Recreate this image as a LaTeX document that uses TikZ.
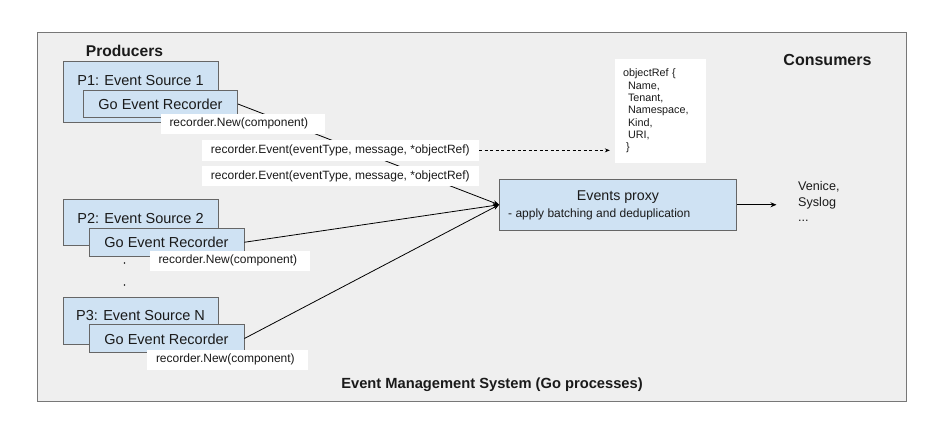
\documentclass[tikz,border=0pt]{standalone}
\usepackage{fontspec}
\setmainfont{Liberation Sans}
\usetikzlibrary{arrows.meta}
\definecolor{bgc}{HTML}{EFEFEF}
\definecolor{bgline}{HTML}{777777}
\definecolor{boxfill}{HTML}{CFE2F3}
\definecolor{boxline}{HTML}{666666}
\definecolor{txt}{HTML}{1A1A1A}
\begin{document}
\begin{tikzpicture}[x=1pt,y=-1pt,
  every node/.style={text=txt},
  bluebox/.style={draw=boxline, fill=boxfill, line width=0.8pt, inner sep=0pt},
  whitelbl/.style={fill=white, inner sep=0pt},
  bigtxt/.style={inner sep=0pt, font=\fontsize{14.5}{17}\selectfont},
  lbltxt/.style={font=\fontsize{12}{14}\selectfont},
  headtxt/.style={inner sep=0pt, font=\bfseries\fontsize{15.6}{18}\selectfont},
  conn/.style={draw=black, line width=0.8pt, -{Stealth[length=6pt,width=5pt]}},
  dotmark/.style={circle, fill=txt, inner sep=0pt, minimum size=1.8pt}
]
\useasboundingbox (0,0) rectangle (938,429);
% outer system box
\draw[fill=bgc, draw=bgline, line width=0.9pt] (37,32) rectangle (906.5,401);

% headings
\node[headtxt] (prod) at (124.5,51) {Producers};
\node[headtxt, font=\bfseries\fontsize{16}{18}\selectfont] (cons) at (827.5,60) {Consumers};
\node[headtxt, font=\bfseries\fontsize{14.7}{17}\selectfont] (ems) at (492,385) {Event Management System (Go processes)};

% producer boxes
\node[bluebox, minimum width=155.5pt, minimum height=61pt] (p1) at (140.75,92) {};
\node[bigtxt] (p1t) at (140.5,80.4) {P1: Event Source 1};
\node[bluebox, minimum width=154.5pt, minimum height=27pt] (r1) at (160.25,104) {};
\node[bigtxt] (r1t) at (160.5,104.5) {Go Event Recorder};

\node[bluebox, minimum width=155.5pt, minimum height=45.5pt] (p2) at (140.75,222.25) {};
\node[bigtxt] (p2t) at (140.5,218.3) {P2: Event Source 2};
\node[bluebox, minimum width=155pt, minimum height=27.5pt] (r2) at (166.5,242.25) {};
\node[bigtxt] (r2t) at (166.5,242.7) {Go Event Recorder};

\node[bluebox, minimum width=155.5pt, minimum height=47pt] (p3) at (140.75,320.5) {};
\node[bigtxt] (p3t) at (140.5,316) {P3: Event Source N};
\node[bluebox, minimum width=155pt, minimum height=28pt] (r3) at (166.5,338.5) {};
\node[bigtxt] (r3t) at (166.5,339) {Go Event Recorder};

\node[dotmark] (d1) at (124.5,263) {};
\node[dotmark] (d2) at (124.5,285) {};

% events proxy
\node[bluebox, minimum width=237pt, minimum height=51.7pt] (proxy) at (618,204.75) {};
\node[bigtxt, font=\fontsize{14.2}{17}\selectfont] (proxyt) at (618,197.3) {Events proxy};
\node[inner sep=0pt, lbltxt, anchor=west] (proxyd) at (508,214) {- apply batching and deduplication};

% connectors
\draw[conn] (r1.east) -- (proxy.west);
\draw[conn] (r2.east) -- (proxy.west);
\draw[conn] (r3.east) -- (proxy.west);
\coordinate (sink) at (776.5,204.75);
\draw[conn] (proxy.east) -- (sink);

% white labels
\node[whitelbl, lbltxt, minimum width=164.5pt, minimum height=20.5pt, text width=146.5pt, align=left, inner xsep=9pt] (n1) at (242.75,123.75) {recorder.New(component)};
\node[whitelbl, lbltxt, minimum width=160.5pt, minimum height=20.5pt, text width=142.5pt, align=left, inner xsep=9pt] (n2) at (229.75,260.75) {recorder.New(component)};
\node[whitelbl, lbltxt, minimum width=160.5pt, minimum height=20pt, text width=142.5pt, align=left, inner xsep=9pt] (n3) at (227.25,359.5) {recorder.New(component)};
\node[whitelbl, lbltxt, minimum width=277.3pt, minimum height=21.5pt] (e1) at (340.35,150.35) {recorder.Event(eventType, message, *objectRef)};
\node[whitelbl, lbltxt, minimum width=277.3pt, minimum height=20pt] (e2) at (340.35,176.2) {recorder.Event(eventType, message, *objectRef)};

% objectRef
\node[whitelbl, minimum width=91pt, minimum height=104.5pt, text width=75pt, inner xsep=8pt, align=left,
      font=\fontsize{10.8}{12.3}\selectfont] (oref) at (660.5,111)
  {objectRef \{\\\hspace*{5pt}Name,\\\hspace*{5pt}Tenant,\\\hspace*{5pt}Namespace,\\\hspace*{5pt}Kind,\\\hspace*{5pt}URI,\\\hspace*{3pt}\}};
\draw[draw=black, line width=0.8pt, dash pattern=on 3pt off 2.5pt, -{Stealth[length=5pt,width=4pt]}, shorten >=5pt]
  (e1.east) -- (e1.east -| oref.west);

% consumers
\node[inner sep=0pt, anchor=west, align=left, font=\fontsize{12.6}{15.8}\selectfont] (venice) at (798,201.5) {Venice,\\Syslog\\...};
\end{tikzpicture}
\end{document}
